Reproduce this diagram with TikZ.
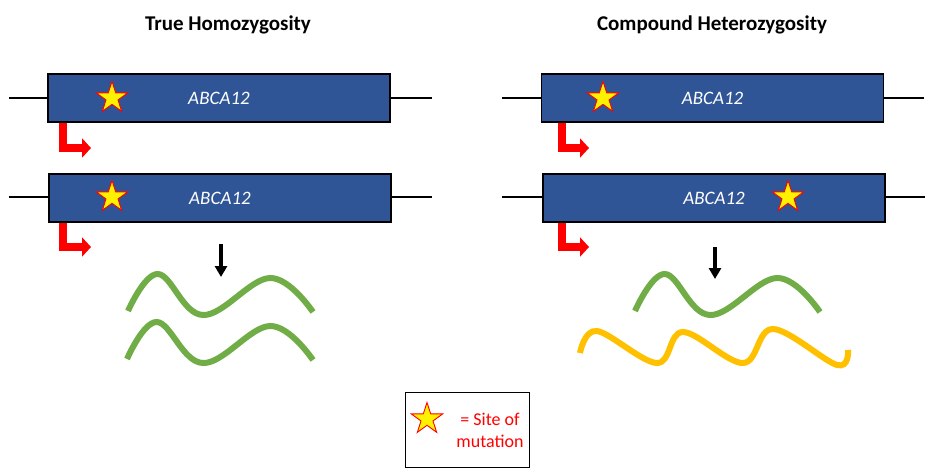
\documentclass[tikz,border=0pt]{standalone}
\usepackage{fontspec}
\setmainfont{Carlito}
\usepackage{xcolor}
\usepackage{tikz}
\usetikzlibrary{arrows.meta}
\usetikzlibrary{shapes}
\usetikzlibrary{positioning}
\definecolor{GeneBlue}{HTML}{2F5597}
\definecolor{RnaGreen}{HTML}{70AD47}
\definecolor{RnaGold}{HTML}{FFC000}
\tikzset{
  GeneBox/.style={
    rectangle, minimum width=342pt, minimum height=48pt,
    line width=1.5pt, draw=black, fill=GeneBlue,
    text=white, font=\fontsize{19}{22}\selectfont\itshape,
  },
  MutStar/.style={
    star, star points=5, star point ratio=2.618,
    minimum size=33pt, inner sep=0pt,
    fill=yellow, draw=red, line width=0.9pt,
  },
  Promoter/.style={
    draw=red, line width=8pt, line join=miter,
    -{Triangle[length=9pt,width=19pt]},
  },
  Backbone/.style={draw=black, line width=1.3pt},
  Product/.style={line width=3.4pt, -{Triangle[length=11pt,width=12pt]}},
  Rna/.style={line width=6pt, line cap=butt},
  Heading/.style={font=\fontsize{21}{24}\selectfont\bfseries},
}
\begin{document}
\begin{tikzpicture}[x=1pt,y=-1pt]
\useasboundingbox (0,0) rectangle (933,472);
\node[Heading] (HOMO) at (228,25) {True Homozygosity};
\node[Heading] (HETERO) at (712,25) {Compound Heterozygosity};
% left: true homozygosity
\coordinate (L1W) at (9,98);  \coordinate (L1E) at (432,98);
\coordinate (L2W) at (9,197); \coordinate (L2E) at (432,197);
\draw[Backbone] (L1W) -- (L1E);
\draw[Backbone] (L2W) -- (L2E);
\node[GeneBox] (GENEL1) at (219,98) {ABCA12};
\node[GeneBox] (GENEL2) at (220,198) {ABCA12};
\node[MutStar] (MUTL1) at (112,98) {};
\node[MutStar] (MUTL2) at (112,197) {};
\coordinate (TSSL1) at (91,148); \coordinate (TSSL2) at (91,247);
\draw[Promoter] (GENEL1.south west) ++(16,0) |- (TSSL1);
\draw[Promoter] (GENEL2.south west) ++(15,0) |- (TSSL2);
\coordinate (PL0) at (221,244); \coordinate (PL1) at (221,277);
\draw[Product] (PL0) -- (PL1);
\draw[Rna, RnaGreen] plot[smooth, tension=0.65] coordinates {(128,311) (158,274) (203,315) (270,278) (313,312)};
\draw[Rna, RnaGreen] plot[smooth, tension=0.65] coordinates {(127,359) (157,322) (203,363) (270,326) (313,360)};
% right: compound heterozygosity
\coordinate (R1W) at (502,98);  \coordinate (R1E) at (924,98);
\coordinate (R2W) at (502,197); \coordinate (R2E) at (925,197);
\draw[Backbone] (R1W) -- (R1E);
\draw[Backbone] (R2W) -- (R2E);
\node[GeneBox] (GENER1) at (712.5,98) {ABCA12};
\node[GeneBox] (GENER2) at (714,198) {ABCA12};
\node[MutStar] (MUTR1) at (603,98) {};
\node[MutStar] (MUTR2) at (788,197) {};
\coordinate (TSSR1) at (589,148); \coordinate (TSSR2) at (589,247);
\draw[Promoter] (GENER1.south west) ++(21,0) |- (TSSR1);
\draw[Promoter] (GENER2.south west) ++(20,0) |- (TSSR2);
\coordinate (PR0) at (715,247); \coordinate (PR1) at (715,279);
\draw[Product] (PR0) -- (PR1);
\draw[Rna, RnaGreen] plot[smooth, tension=0.65] coordinates {(635,311) (665,274) (710,315) (777,278) (820,312)};
\draw[Rna, RnaGold] plot[smooth, tension=0.6] coordinates {(580,353) (597,331) (657,363) (683,332) (743,363) (773,329) (837,365) (848,350)};
% key
\node[draw, line width=1pt, minimum width=124pt, minimum height=75pt] (KEY) at (467,429.5) {};
\node[MutStar] (KEYSTAR) at (427,419) {};
\node[text=red, align=center, font=\fontsize{18}{22}\selectfont] (KEYTXT) at (490,430) {= Site of\\mutation};
\end{tikzpicture}
\end{document}
